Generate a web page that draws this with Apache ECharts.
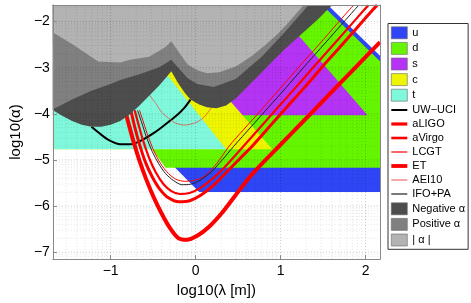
<!DOCTYPE html>
<html><head><meta charset="utf-8">
<script src="https://cdn.jsdelivr.net/npm/echarts@6/dist/echarts.min.js"></script>
<style>html,body{margin:0;padding:0;background:#fff}#c{width:471px;height:303px}</style>
</head><body><div id="c"></div>
<script>
const X_MIN = -1.68, X_MAX = 2.17, Y_MIN = -7.15, Y_MAX = -1.64;
const xTickLabels = [-1, 0, 1, 2];
const yTickLabels = [-7, -6, -5, -4, -3, -2];
const minorOffsets = [0.301, 0.477, 0.602, 0.699, 0.778, 0.845, 0.903, 0.954];

// coloured prediction regions (vertices in log10 units)
const regionU = [[0.042,-5.696],[-2.207,-1.5],[1.478,-1.5],[3.819,-5.696]];
const regionD = [[-0.354,-5.168],[-1.804,-1.5],[1.410,-1.5],[3.457,-5.168]];
const regionS = [[-2.5,-4.028],[2.023,-4.028],[0.836,-1.5],[-2.5,-1.5]];
const regionC = [[-2.5,-4.767],[0.902,-4.767],[-0.646,-1.5],[-2.5,-1.5]];
const regionT = [[-2.5,-4.767],[0.359,-4.767],[-1.047,-1.5],[-2.5,-1.5]];

// excluded-region boundaries
const boundNegative = [[-1.679,-3.923],[-1.566,-4.049],[-1.453,-4.155],[-1.340,-4.239],[-1.226,-4.281],[-1.113,-4.281],[-1.000,-4.239],[-0.887,-4.155],[-0.774,-4.008],[-0.660,-3.817],[-0.547,-3.606],[-0.434,-3.395],[-0.354,-3.226],[-0.286,-3.079],[-0.207,-3.332],[-0.128,-3.543],[-0.060,-3.691],[0.042,-3.796],[0.132,-3.859],[0.246,-3.880],[0.359,-3.817],[0.472,-3.670],[0.665,-3.311],[0.868,-2.931],[1.038,-2.614],[1.231,-2.298],[1.434,-1.960],[1.604,-1.643],[1.717,-1.432]];
const boundPositive = [[-1.679,-3.902],[-1.453,-3.691],[-1.226,-3.501],[-1.000,-3.353],[-0.887,-3.268],[-0.660,-3.142],[-0.434,-2.994],[-0.286,-2.825],[-0.207,-2.994],[-0.094,-3.226],[0.019,-3.353],[0.212,-3.416],[0.472,-3.247],[0.778,-2.762],[1.038,-2.255],[1.299,-1.707],[1.378,-1.538]];
const boundAbs = [[-1.679,-2.234],[-1.453,-2.488],[-1.147,-2.867],[-0.887,-2.889],[-0.774,-2.825],[-0.547,-2.762],[-0.354,-2.551],[-0.286,-2.424],[-0.207,-2.635],[-0.094,-2.931],[0.019,-3.057],[0.132,-3.121],[0.280,-3.100],[0.472,-2.973],[0.665,-2.741],[0.834,-2.488],[0.959,-2.277],[1.072,-2.065],[1.151,-1.897],[1.231,-1.728],[1.299,-1.580]];

// sensitivity curves
const curveUWUCI = [[-1.226,-4.281],[-1.113,-4.450],[-1.034,-4.556],[-0.887,-4.661],[-0.774,-4.661],[-0.660,-4.598],[-0.468,-4.387],[-0.320,-4.176],[-0.207,-4.008],[-0.128,-3.859],[-0.060,-3.691]];
const curveALIGO = [[-0.762,-3.923],[-0.717,-4.281],[-0.660,-4.661],[-0.592,-5.041],[-0.513,-5.358],[-0.422,-5.632],[-0.320,-5.822],[-0.196,-5.907],[-0.071,-5.885],[0.065,-5.759],[0.212,-5.548],[0.359,-5.273],[0.517,-4.978],[0.665,-4.703],[0.868,-4.281],[1.072,-3.859],[1.277,-3.437],[1.479,-3.005],[1.684,-2.583],[1.887,-2.158],[2.091,-1.734],[2.136,-1.643]];
const curveAVirgo = [[-0.717,-3.923],[-0.671,-4.239],[-0.615,-4.598],[-0.547,-4.957],[-0.468,-5.273],[-0.377,-5.527],[-0.286,-5.675],[-0.185,-5.738],[-0.071,-5.717],[0.053,-5.611],[0.189,-5.421],[0.336,-5.168],[0.563,-4.703],[0.767,-4.281],[0.970,-3.859],[1.174,-3.437],[1.378,-3.005],[1.582,-2.583],[1.786,-2.158],[1.989,-1.734],[2.034,-1.643]];
const curveLCGT = [[-0.660,-3.923],[-0.615,-4.176],[-0.558,-4.492],[-0.490,-4.809],[-0.411,-5.083],[-0.320,-5.295],[-0.230,-5.421],[-0.128,-5.463],[-0.015,-5.442],[0.099,-5.358],[0.246,-5.083],[0.393,-4.703],[0.563,-4.345],[0.789,-3.880],[1.010,-3.416],[1.231,-2.952],[1.457,-2.488],[1.666,-2.044],[1.859,-1.643]];
const curveET = [[-0.830,-3.923],[-0.785,-4.239],[-0.728,-4.619],[-0.660,-5.020],[-0.581,-5.421],[-0.490,-5.822],[-0.400,-6.160],[-0.309,-6.455],[-0.207,-6.688],[-0.105,-6.730],[0.019,-6.645],[0.155,-6.455],[0.314,-6.139],[0.472,-5.759],[0.642,-5.358],[0.812,-5.020],[0.981,-4.703],[1.265,-4.166],[1.548,-3.627],[1.831,-3.089],[2.170,-2.445]];
const curveAEI10 = [[-0.547,-3.585],[-0.468,-3.775],[-0.400,-3.965],[-0.320,-4.092],[-0.241,-4.197],[-0.128,-4.245],[0.019,-4.176],[0.110,-4.050],[0.189,-3.859]];
const curveIFOPA = [[-0.683,-3.923],[-0.637,-4.176],[-0.581,-4.492],[-0.513,-4.809],[-0.434,-5.083],[-0.354,-5.295],[-0.264,-5.442],[-0.162,-5.537],[-0.060,-5.527],[0.053,-5.442],[0.189,-5.252],[0.314,-4.999],[0.449,-4.703],[0.653,-4.281],[0.857,-3.859],[1.061,-3.437],[1.265,-3.005],[1.468,-2.583],[1.672,-2.158],[1.876,-1.734],[1.921,-1.643]];

const legendNames = ['u','d','s','c','t','UW\u2212UCI','aLIGO','aVirgo','LCGT','ET','AEI10','IFO+PA','Negative \u03b1','Positive \u03b1','| \u03b1 |'];
const regionColors = ['#2e46f5','#66f500','#b533f5','#eef500','#80f8dc'];
const greyColors = ['#4d4d4d','#808080','#b3b3b3'];
const lineColors = ['#000000','#ff0000','#ff0000','#ff0000','#ff0000','#e8504a','#222222'];
const lineWidths = [2, 3, 2.2, 1, 4, 0.8, 1];
const legendLineThickness = [2, 3.2, 2.6, 1.2, 3.8, 1, 1.2];

function clipPoly(pts){
  const tests = [
    [p => p[0] >= X_MIN, (a,b) => { const t=(X_MIN-a[0])/(b[0]-a[0]); return [X_MIN, a[1]+t*(b[1]-a[1])]; }],
    [p => p[0] <= X_MAX, (a,b) => { const t=(X_MAX-a[0])/(b[0]-a[0]); return [X_MAX, a[1]+t*(b[1]-a[1])]; }],
    [p => p[1] >= Y_MIN, (a,b) => { const t=(Y_MIN-a[1])/(b[1]-a[1]); return [a[0]+t*(b[0]-a[0]), Y_MIN]; }],
    [p => p[1] <= Y_MAX, (a,b) => { const t=(Y_MAX-a[1])/(b[1]-a[1]); return [a[0]+t*(b[0]-a[0]), Y_MAX]; }]
  ];
  let out = pts;
  for (const [inside, inter] of tests) {
    const inp = out; out = [];
    for (let i = 0; i < inp.length; i++) {
      const cur = inp[i], prev = inp[(i + inp.length - 1) % inp.length];
      if (inside(cur)) { if (!inside(prev)) out.push(inter(prev, cur)); out.push(cur); }
      else if (inside(prev)) out.push(inter(prev, cur));
    }
  }
  return out;
}
function aboveCurve(curve){
  const top = Y_MAX + 1, left = X_MIN - 0.5;
  return [[left, curve[0][1]]].concat(curve, [[curve[curve.length-1][0], top], [left, top]]);
}
function areaSeries(name, pts, color, z){
  return { name, type:'custom', coordinateSystem:'cartesian2d', z, silent:true, animation:false,
    itemStyle:{color}, data:[[ (X_MIN+X_MAX)/2, (Y_MIN+Y_MAX)/2 ]],
    renderItem(params, api){
      const c = clipPoly(pts);
      return { type:'polygon', shape:{ points: c.map(p => api.coord(p)) }, style:{ fill: color } };
    } };
}
function lineSeries(name, data, color, width, z){
  return { name, type:'line', data, z, showSymbol:false, symbol:'none', smooth:0.25, silent:true, animation:false,
    lineStyle:{ color, width }, itemStyle:{ color }, clip:true };
}
const gridLines = [];
[-2,-1,0,1,2].forEach(d => { [0].concat(minorOffsets).forEach(o => { const v=d+o; if (v>X_MIN && v<X_MAX) gridLines.push(['x', v]); }); });
[-8,-7,-6,-5,-4,-3,-2].forEach(d => { [0].concat(minorOffsets).forEach(o => { const v=d+o; if (v>Y_MIN && v<Y_MAX) gridLines.push(['y', v]); }); });

const curves = [curveUWUCI, curveALIGO, curveAVirgo, curveLCGT, curveET, curveAEI10, curveIFOPA];
const regions = [regionU, regionD, regionS, regionC, regionT];
const bounds = [boundNegative, boundPositive, boundAbs];

const series = [];
regions.forEach((r,i) => series.push(areaSeries(legendNames[i], r, regionColors[i], 1)));
curves.forEach((c,i) => series.push(lineSeries(legendNames[5+i], c, lineColors[i], lineWidths[i], 2)));
bounds.forEach((b,i) => series.push(areaSeries(legendNames[12+i], aboveCurve(b), greyColors[i], 3)));
series.push({ type:'custom', coordinateSystem:'cartesian2d', z:4, silent:true, animation:false,
    data: gridLines.map((g,i)=>[i,0]),
    renderItem(params, api){
      const g = gridLines[params.dataIndex];
      const a = g[0]==='x' ? api.coord([g[1], Y_MIN]) : api.coord([X_MIN, g[1]]);
      const b = g[0]==='x' ? api.coord([g[1], Y_MAX]) : api.coord([X_MAX, g[1]]);
      const major = Math.abs(g[1]-Math.round(g[1])) < 1e-6;
      return { type:'line', shape:{x1:a[0],y1:a[1],x2:b[0],y2:b[1]},
        style:{ stroke: major ? 'rgba(0,0,0,0.22)' : 'rgba(0,0,0,0.11)', lineWidth:1, lineDash:[1,2] } };
    } });

const legendData = legendNames.map((n,i) => {
  if (i < 5) return { name:n, icon:'rect', itemStyle:{ color: regionColors[i], borderColor:'#666', borderWidth:0.6 } };
  if (i > 11) return { name:n, icon:'rect', itemStyle:{ color: greyColors[i-12], borderColor:'#666', borderWidth:0.6 } };
  const t = legendLineThickness[i-5];
  return { name:n, icon:'path://M0,0H16V' + t + 'H0Z', itemStyle:{ color: lineColors[i-5], borderWidth:0 } };
});

const fam = '"Liberation Sans", Arial, sans-serif';
const chart = echarts.init(document.getElementById('c'), null, {renderer:'canvas'});
chart.setOption({
  animation:false,
  backgroundColor:'#fff',
  grid:{ left:40, right:91, top:5, bottom:37, containLabel:false },
  xAxis:[{ type:'value', min:X_MIN, max:X_MAX, z:10,
      name:'log10(\u03bb [m])', nameLocation:'middle', nameGap:16,
      nameTextStyle:{ fontFamily:fam, fontSize:15, color:'#000' },
      axisLine:{ show:true, onZero:false, lineStyle:{ color:'#888', width:1 } },
      axisTick:{ show:true, inside:true, length:4, customValues:xTickLabels, lineStyle:{color:'#888'} },
      axisLabel:{ customValues:xTickLabels, margin:5, fontFamily:fam, fontSize:14, color:'#000',
        formatter: v => (v<0?'\u2212':'') + Math.abs(v) },
      splitLine:{ show:false } },
    { type:'value', min:X_MIN, max:X_MAX, position:'top', z:10,
      axisLine:{ show:true, onZero:false, lineStyle:{ color:'#888', width:1 } },
      axisTick:{ show:false }, axisLabel:{ show:false }, splitLine:{ show:false } }],
  yAxis:[{ type:'value', min:Y_MIN, max:Y_MAX, z:10,
      name:'log10(\u03b1)', nameLocation:'middle', nameGap:21, nameRotate:90,
      nameTextStyle:{ fontFamily:fam, fontSize:15, color:'#000' },
      axisLine:{ show:true, onZero:false, lineStyle:{ color:'#888', width:1 } },
      axisTick:{ show:true, inside:true, length:4, customValues:yTickLabels, lineStyle:{color:'#888'} },
      axisLabel:{ customValues:yTickLabels, margin:3, fontFamily:fam, fontSize:14, color:'#000',
        formatter: v => (v<0?'\u2212':'') + Math.abs(v) },
      splitLine:{ show:false } },
    { type:'value', min:Y_MIN, max:Y_MAX, position:'right', z:10,
      axisLine:{ show:true, onZero:false, lineStyle:{ color:'#888', width:1 } },
      axisTick:{ show:false }, axisLabel:{ show:false }, splitLine:{ show:false } }],
  legend:{ orient:'vertical', left:388, top:23.5, padding:[3,3,3,3], itemGap:3, itemWidth:16, itemHeight:12,
    backgroundColor:'#fff', borderColor:'#333', borderWidth:1, borderRadius:0, selectedMode:false,
    textStyle:{ fontFamily:fam, fontSize:11, color:'#000' }, data: legendData },
  series
});
</script></body></html>
